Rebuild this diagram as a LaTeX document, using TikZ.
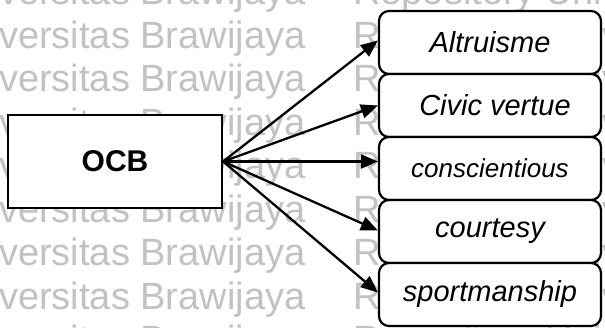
\documentclass[tikz,border=0pt]{standalone}
\usepackage{fontspec}
\setmainfont{Liberation Sans}
\usetikzlibrary{arrows.meta}

\tikzset{
  wmark/.style={text=black!24, anchor=base west, inner sep=0pt,
    font=\fontsize{38}{44}\selectfont},
  rootbox/.style={draw, line width=2.2pt, fill=white, rectangle,
    minimum width=214pt, minimum height=93pt, inner sep=0pt,
    font=\fontsize{30}{36}\selectfont\bfseries},
  itembox/.style={draw, line width=2.2pt, fill=white, rounded corners=10pt,
    minimum width=222pt, minimum height=63pt, inner sep=0pt,
    font=\fontsize{29}{34}\selectfont\itshape},
  link/.style={line width=2.3pt, -{Triangle[length=17pt,width=14pt]}}
}

\begin{document}
\begin{tikzpicture}[x=1pt, y=-1pt]
  \useasboundingbox (0,0) rectangle (605,328);
  \fill[white] (0,0) rectangle (605,328);

  % repository watermark rows
  \begin{scope}
    \clip (0,0) rectangle (605,328);
    \foreach \k in {0,...,8} {
      \pgfmathsetmacro{\yb}{5+43.5*\k}
      \node[wmark] (wmL\k) at (-1,\yb) {versitas Brawijaya};
      \node[wmark] (wmR\k) at (353,\yb) {Repository Universitas Brawijaya};
    }
  \end{scope}

  % source construct
  \node[rootbox] (ocb) at (115,161.5) {OCB};

  % dimensions
  \node[itembox] (c1) at (490,42.5)  {Altruisme};
  \node[itembox] (c2) at (490,105.5) {\hspace*{10pt}Civic vertue};
  \node[itembox, font=\fontsize{26}{31}\selectfont\itshape] (c3) at (490,168.5) {conscientious};
  \node[itembox] (c4) at (490,231.5) {courtesy};
  \node[itembox] (c5) at (490,294.5) {sportmanship};

  % arrows from OCB to each dimension
  \draw[link] (ocb.east) -- ([yshift=2pt]c1.west);
  \draw[link] (ocb.east) -- (c2.west);
  \draw[link] (ocb.east) -- (ocb.east -| c3.west);
  \draw[link] (ocb.east) -- ([yshift=1pt]c4.west);
  \draw[link] (ocb.east) -- ([yshift=2pt]c5.west);
\end{tikzpicture}
\end{document}
